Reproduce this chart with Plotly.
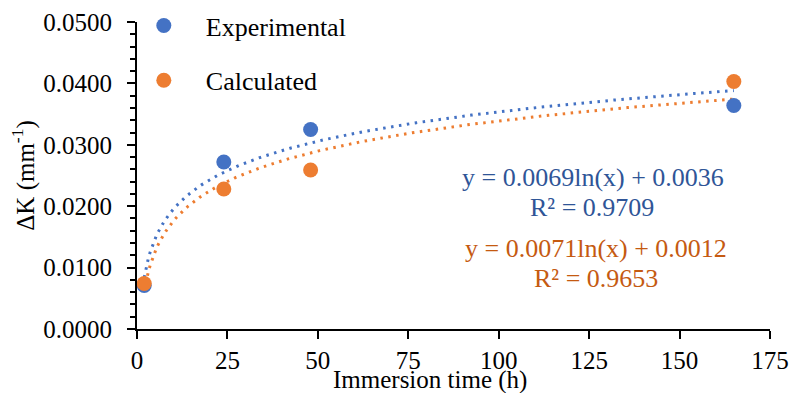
import numpy as np
import plotly.graph_objects as go

# ---- data ----
time_h = [2, 24, 48, 165]
experimental = [0.0071, 0.0272, 0.0325, 0.0364]
calculated = [0.0074, 0.0228, 0.0259, 0.0403]

# logarithmic trendline coefficients (as printed on chart)
exp_slope, exp_intercept, exp_r2 = 0.0069, 0.0036, 0.9709
cal_slope, cal_intercept, cal_r2 = 0.0071, 0.0012, 0.9653

x_ticks = [0, 25, 50, 75, 100, 125, 150, 175]
y_ticks = [0.0, 0.01, 0.02, 0.03, 0.04, 0.05]

BLUE = "#4472C4"
ORANGE = "#ED7D31"
BLUE_TXT = "#2F5597"
ORANGE_TXT = "#C55A11"
FONT = "Liberation Serif"

L, R, T, B = 137, 770, 22, 329
W, H = R - L, B - T

xt = np.linspace(min(time_h), max(time_h), 300)

fig = go.Figure()

# trendlines
fig.add_trace(go.Scatter(x=xt, y=exp_slope * np.log(xt) + exp_intercept, mode="lines",
                         line=dict(color=BLUE, width=3, dash="2.5px,5.5px"),
                         showlegend=False, hoverinfo="skip"))
fig.add_trace(go.Scatter(x=xt, y=cal_slope * np.log(xt) + cal_intercept, mode="lines",
                         line=dict(color=ORANGE, width=3, dash="2.5px,5.5px"),
                         showlegend=False, hoverinfo="skip"))

# points
fig.add_trace(go.Scatter(x=time_h, y=experimental, mode="markers", name="Experimental",
                         marker=dict(color=BLUE, size=15), legendgroup="a"))
fig.add_trace(go.Scatter(x=time_h, y=calculated, mode="markers", name="Calculated",
                         marker=dict(color=ORANGE, size=15), legendgroup="b"))

f25 = dict(family=FONT, size=25, color="black")
f26 = dict(family=FONT, size=26, color="black")


def px_x(p):
    return (p - L) / W


def px_y(p):
    return (B - p) / H


eq_blue = f"y = {exp_slope:.4f}ln(x) + {exp_intercept:.4f}"
r2_blue = f"R² = {exp_r2:.4f}"
eq_orange = f"y = {cal_slope:.4f}ln(x) + {cal_intercept:.4f}"
r2_orange = f"R² = {cal_r2:.4f}"

fig.update_layout(
    width=792, height=393,
    margin=dict(l=L, r=792 - R, t=T, b=393 - B, autoexpand=False),
    paper_bgcolor="white", plot_bgcolor="white",
    font=f25,
    legend=dict(x=-0.024, y=1.065, xanchor="left", yanchor="top",
                bgcolor="rgba(0,0,0,0)", font=f26,
                traceorder="grouped", tracegroupgap=18, itemwidth=74),
    xaxis=dict(range=[0, 175], tickvals=x_ticks, ticktext=[str(v) for v in x_ticks],
               showline=True, linecolor="black", linewidth=2,
               ticks="outside", ticklen=8, tickwidth=2, tickcolor="black",
               showgrid=False, zeroline=False, tickfont=f25, automargin=False),
    yaxis=dict(range=[0, 0.05], tickvals=y_ticks, tickformat=".4f",
               showline=True, linecolor="black", linewidth=2,
               ticks="outside", ticklen=8, tickwidth=2, tickcolor="black",
               ticklabelstandoff=10,
               minor=dict(dtick=0.002, ticks="outside", ticklen=5, tickwidth=2, tickcolor="black"),
               showgrid=False, zeroline=False, tickfont=f25, automargin=False,
               title=dict(text="ΔK (mm<sup>-1</sup>)", font=f25, standoff=2)),
    annotations=[
        dict(text="Immersion time (h)", xref="paper", yref="paper",
             x=px_x(430), y=px_y(380),
             xanchor="center", yanchor="middle", showarrow=False, font=f25),
        dict(text=eq_blue, xref="paper", yref="paper", x=px_x(593), y=px_y(177),
             xanchor="center", yanchor="middle", showarrow=False,
             font=dict(family=FONT, size=26, color=BLUE_TXT)),
        dict(text=r2_blue, xref="paper", yref="paper", x=px_x(592), y=px_y(207),
             xanchor="center", yanchor="middle", showarrow=False,
             font=dict(family=FONT, size=26, color=BLUE_TXT)),
        dict(text=eq_orange, xref="paper", yref="paper", x=px_x(596), y=px_y(248),
             xanchor="center", yanchor="middle", showarrow=False,
             font=dict(family=FONT, size=26, color=ORANGE_TXT)),
        dict(text=r2_orange, xref="paper", yref="paper", x=px_x(596), y=px_y(278),
             xanchor="center", yanchor="middle", showarrow=False,
             font=dict(family=FONT, size=26, color=ORANGE_TXT)),
    ],
)

fig.write_html("out.html", config={"displayModeBar": False},
               post_script="document.body.style.margin='0';")
